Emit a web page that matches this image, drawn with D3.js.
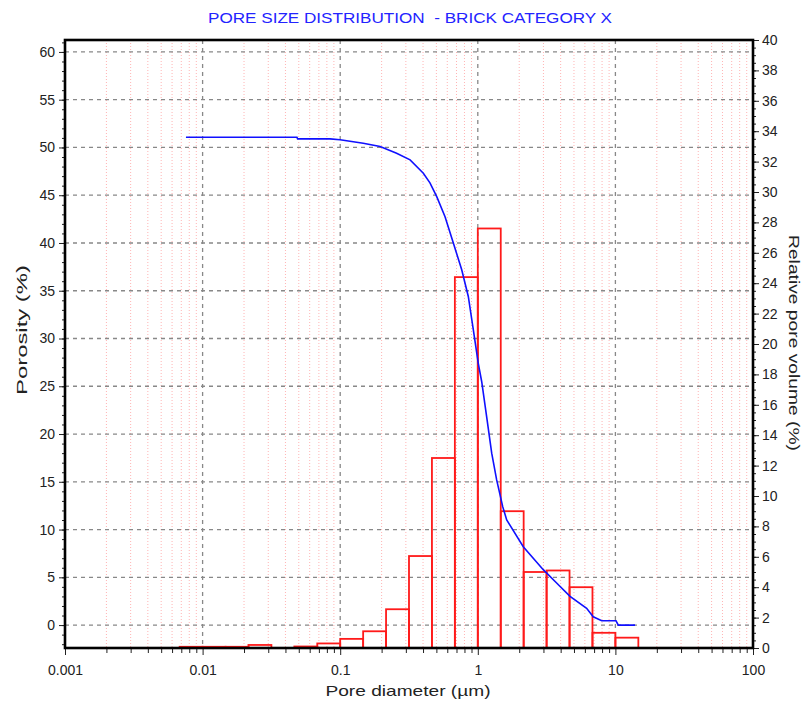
<!DOCTYPE html>
<meta charset="utf-8">
<script src="https://d3js.org/d3.v7.min.js"></script>
<style>
  body { margin: 0; background: #fff; }
  text { font-family: "Liberation Sans", Arial, sans-serif; fill: #222; }
</style>
<div id="chart"></div>
<script>
    // histogram bins (pore diameter edges, µm) and relative pore volume (%)
    const binEdges = [0.00681, 0.01, 0.01468, 0.02154, 0.03162, 0.04642, 0.06813, 0.1, 0.1468,
        0.2154, 0.3162, 0.4642, 0.6813, 1, 1.468, 2.154, 3.162, 4.642, 6.813, 10, 14.68];
    const relVolume = [0.08, 0.08, 0.08, 0.2, 0, 0.1, 0.3, 0.6, 1.1, 2.55, 6.05, 12.5, 24.4,
        27.6, 9.0, 5.0, 5.1, 4.0, 1.0, 0.68];

    // cumulative porosity curve (%)
    const curveDiam = [0.00757, 0.0485, 0.049, 0.0843, 0.0997, 0.147, 0.195, 0.257, 0.322, 0.402,
        0.449, 0.503, 0.578, 0.664, 0.764, 0.853, 0.928, 1.008, 1.067, 1.16, 1.262, 1.371, 1.517,
        1.622, 2.14, 2.99, 3.74, 4.68, 6.18, 6.9, 7.95, 10.1, 10.5, 13.9];
    const curvePoro = [51.07, 51.07, 50.9, 50.9, 50.8, 50.45, 50.1, 49.4, 48.7, 47.3,
        46.3, 44.85, 42.75, 40.0, 37.2, 34.4, 30.9, 27.4, 25.5, 21.8, 18.0, 15.2, 12.4,
        11.0, 8.2, 5.8, 4.4, 3.0, 1.75, 0.87, 0.45, 0.45, 0.0, 0.0];

    const xTicks = [0.001, 0.01, 0.1, 1, 10, 100];
    const leftTicks = d3.range(0, 61, 5);
    const rightTicks = d3.range(0, 41, 2);

    const W = 803, H = 704;
    const L = 65, R = 753, T = 40, B = 648;

    const svg = d3.select("#chart").append("svg")
        .attr("width", W).attr("height", H);

    const x = d3.scaleLog().domain([0.001, 100]).range([L, R]);
    const yL = d3.scaleLinear().domain([-2.4, 61.25]).range([B, T]);
    const yR = d3.scaleLinear().domain([0, 40]).range([B, T]);

    // minor log positions
    const minorX = [];
    [0.001, 0.01, 0.1, 1, 10].forEach(d => { for (let m = 2; m <= 9; m++) minorX.push(d * m); });

    // grid
    const grid = svg.append("g");
    grid.selectAll(".vminor").data(minorX).join("line")
        .attr("x1", d => x(d)).attr("x2", d => x(d))
        .attr("y1", T).attr("y2", B)
        .attr("stroke", "#ffb4b4").attr("stroke-width", 1).attr("stroke-dasharray", "1,2");
    grid.selectAll(".vmajor").data([0.01, 0.1, 1, 10]).join("line")
        .attr("x1", d => x(d)).attr("x2", d => x(d))
        .attr("y1", T).attr("y2", B)
        .attr("stroke", "#888").attr("stroke-width", 1.3).attr("stroke-dasharray", "4,4");
    grid.selectAll(".hmajor").data(leftTicks).join("line")
        .attr("x1", L).attr("x2", R)
        .attr("y1", d => yL(d)).attr("y2", d => yL(d))
        .attr("stroke", "#888").attr("stroke-width", 1.3).attr("stroke-dasharray", "4,4");

    // bars
    const bins = relVolume.map((v, i) => ({x0: binEdges[i], x1: binEdges[i + 1], v: v}));
    svg.append("g").selectAll("rect").data(bins).join("rect")
        .attr("x", d => x(d.x0))
        .attr("width", d => x(d.x1) - x(d.x0))
        .attr("y", d => yR(d.v))
        .attr("height", d => yR(0) - yR(d.v))
        .attr("fill", "none")
        .attr("stroke", "#ff1a1a")
        .attr("stroke-width", 1.8);

    // curve
    const pts = curveDiam.map((d, i) => [d, curvePoro[i]]);
    svg.append("path")
        .datum(pts)
        .attr("fill", "none")
        .attr("stroke", "#1010ff")
        .attr("stroke-width", 1.6)
        .attr("d", d3.line().x(d => x(d[0])).y(d => yL(d[1])));

    // axes
    svg.append("g").attr("transform", `translate(0,${B})`)
        .call(d3.axisBottom(x).tickValues(xTicks).tickSize(7).tickPadding(10)
            .tickFormat(d => d >= 1 ? d3.format("d")(d) : String(d)));
    svg.append("g").attr("transform", `translate(0,${B})`)
        .call(d3.axisBottom(x).tickValues(minorX).tickSize(5).tickFormat(""));

    svg.append("g").attr("transform", `translate(${L},0)`)
        .call(d3.axisLeft(yL).tickValues(leftTicks).tickSize(6).tickPadding(4));
    svg.append("g").attr("transform", `translate(${L},0)`)
        .call(d3.axisLeft(yL).tickValues(d3.range(-2, 62, 1)).tickSize(3).tickFormat(""));

    svg.append("g").attr("transform", `translate(${R},0)`)
        .call(d3.axisRight(yR).tickValues(rightTicks).tickSize(6).tickPadding(3));
    svg.append("g").attr("transform", `translate(${R},0)`)
        .call(d3.axisRight(yR).tickValues(d3.range(0, 40.01, 0.5)).tickSize(3).tickFormat(""));

    svg.selectAll(".domain").remove();
    svg.selectAll(".tick line").attr("stroke", "#222").attr("stroke-width", 1);
    svg.selectAll(".tick text").attr("font-size", 14).attr("fill", "#2a2a2a")
        .attr("font-family", "Liberation Sans, Arial, sans-serif");

    // frame
    svg.append("rect")
        .attr("x", L).attr("y", T).attr("width", R - L).attr("height", B - T)
        .attr("fill", "none").attr("stroke", "#000").attr("stroke-width", 2.6);

    // titles
    svg.append("text")
        .attr("x", 410).attr("y", 23)
        .attr("text-anchor", "middle")
        .attr("font-size", 14)
        .style("fill", "#2323ff")
        .style("white-space", "pre")
        .attr("textLength", 404).attr("lengthAdjust", "spacingAndGlyphs")
        .text("PORE SIZE DISTRIBUTION  - BRICK CATEGORY X");

    svg.append("text")
        .attr("x", 408).attr("y", 696)
        .attr("text-anchor", "middle")
        .attr("font-size", 15)
        .attr("textLength", 165).attr("lengthAdjust", "spacingAndGlyphs")
        .text("Pore diameter (µm)");

    svg.append("text")
        .attr("transform", "translate(27,330) rotate(-90)")
        .attr("text-anchor", "middle")
        .attr("font-size", 15)
        .attr("textLength", 130).attr("lengthAdjust", "spacingAndGlyphs")
        .text("Porosity (%)");

    svg.append("text")
        .attr("transform", "translate(789,343) rotate(90)")
        .attr("text-anchor", "middle")
        .attr("font-size", 15)
        .attr("textLength", 216).attr("lengthAdjust", "spacingAndGlyphs")
        .text("Relative pore volume (%)");
</script>
